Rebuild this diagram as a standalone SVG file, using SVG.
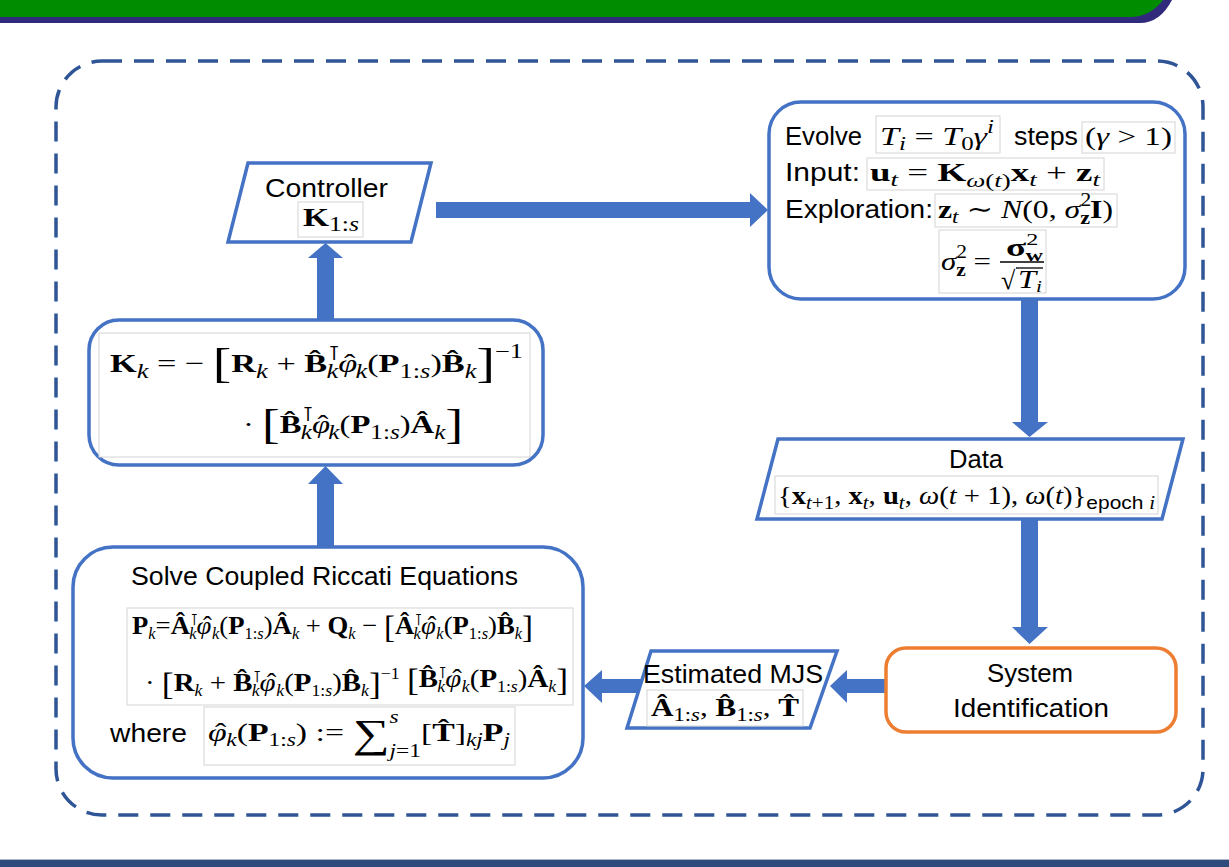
<svg xmlns="http://www.w3.org/2000/svg" width="1229" height="867" viewBox="0 0 1229 867">
<defs>
<style>
.box{fill:#fff;stroke:#4472C4;stroke-width:3.5}
.obox{fill:#fff;stroke:#ED7D31;stroke-width:3.5}
.fbox{fill:#fff;stroke:#D4D4D4;stroke-width:1}
.t{font-family:"Liberation Sans",Arial,sans-serif;font-size:26px;fill:#000}
.m{font-family:"Liberation Serif","DejaVu Serif",serif;font-size:26px;fill:#000}
.b{font-weight:bold;font-style:normal}
.i{font-style:italic}
.u{font-style:normal;font-weight:normal}
.tp{font-family:"DejaVu Sans",sans-serif;font-style:normal;font-weight:normal}
.arr{fill:#4472C4}
</style>
</defs>
<rect width="1229" height="867" fill="#fff"/>
<g id="banner">
<path d="M0,0 H1172 Q1160,23 1140,23 H0 Z" fill="#312A7C"/>
<path d="M0,0 H1163 Q1150,17 1130,17 H0 Z" fill="#008C00"/>
</g>
<rect id="frame" x="56" y="61" width="1147" height="754" rx="46" fill="none" stroke="#2F5597" stroke-width="3.5" stroke-dasharray="20 12"/>
<g id="footer">
<rect x="0" y="859" width="1229" height="1" fill="#B0B8C8"/>
<rect x="0" y="860" width="1229" height="7" fill="#2E4B7B"/>
</g>
<g id="connectors">
<polygon class="arr" points="317,322 317,258 308,258 325.5,243 343,258 334,258 334,322"/>
<polygon class="arr" points="317,549 317,484 308,484 325.5,466 343,484 334,484 334,549"/>
<polygon class="arr" points="436,202 750,202 750,193 768,210 750,227 750,218 436,218"/>
<polygon class="arr" points="1021,300 1038,300 1038,422 1048,422 1029.5,437 1012,422 1021,422"/>
<polygon class="arr" points="1021,519 1038,519 1038,627 1048,627 1029.5,644 1012,627 1021,627"/>
<polygon class="arr" points="887,679 847,679 847,670 830,686 847,703 847,693 887,693"/>
<polygon class="arr" points="642,679 602,679 602,670 584,686 602,703 602,693 642,693"/>
</g>
<g id="controller">
<polygon class="box" points="248,163 431,163 411,242 228,242"/>
<text class="t" x="265" y="197" textLength="123" lengthAdjust="spacingAndGlyphs">Controller</text>
<rect class="fbox" x="298" y="202" width="65" height="35"/>
<text class="m" x="303" y="226" font-size="30" textLength="56" lengthAdjust="spacingAndGlyphs"><tspan class="b">K</tspan><tspan font-size="20" dy="5">1:<tspan class="i">s</tspan></tspan></text>
</g>
<g id="gain">
<rect class="box" x="89" y="320" width="454" height="145" rx="30"/>
<rect class="fbox" x="99" y="333" width="431" height="124"/>
<text class="m" x="110" y="372" font-size="30" textLength="413" lengthAdjust="spacingAndGlyphs"><tspan class="b">K</tspan><tspan class="i" font-size="20" dy="6">k</tspan><tspan dy="-6"> = − </tspan><tspan font-size="42" dy="5">[</tspan><tspan class="b" dy="-5">R</tspan><tspan class="i" font-size="20" dy="6">k</tspan><tspan dy="-6"> + </tspan><tspan class="b">B̂</tspan><tspan class="tp" font-size="20" dy="-12">⊺</tspan><tspan class="i" font-size="20" dx="-11" dy="18">k</tspan><tspan class="i" dy="-6">φ</tspan><tspan class="u" dx="-10">ˆ</tspan><tspan class="i" font-size="20" dy="6">k</tspan><tspan dy="-6">(</tspan><tspan class="b">P</tspan><tspan font-size="20" dy="6">1:<tspan class="i">s</tspan></tspan><tspan dy="-6">)</tspan><tspan class="b">B̂</tspan><tspan class="i" font-size="20" dy="6">k</tspan><tspan font-size="42" dy="-1">]</tspan><tspan font-size="20" dy="-19">−1</tspan></text>
<text class="m" x="243" y="433" font-size="30" textLength="220" lengthAdjust="spacingAndGlyphs"><tspan>· </tspan><tspan font-size="42" dy="5">[</tspan><tspan class="b" dy="-5">B̂</tspan><tspan class="tp" font-size="20" dy="-12">⊺</tspan><tspan class="i" font-size="20" dx="-11" dy="18">k</tspan><tspan class="i" dy="-6">φ</tspan><tspan class="u" dx="-10">ˆ</tspan><tspan class="i" font-size="20" dy="6">k</tspan><tspan dy="-6">(</tspan><tspan class="b">P</tspan><tspan font-size="20" dy="6">1:<tspan class="i">s</tspan></tspan><tspan dy="-6">)</tspan><tspan class="b">Â</tspan><tspan class="i" font-size="20" dy="6">k</tspan><tspan font-size="42" dy="-1">]</tspan></text>
</g>
<g id="evolve">
<rect class="box" x="769" y="102" width="416" height="197" rx="32"/>
<text class="t" x="785" y="145" textLength="77" lengthAdjust="spacingAndGlyphs">Evolve</text>
<rect class="fbox" x="876" y="116" width="124" height="37"/>
<text class="m" x="880" y="145" font-size="28" textLength="114" lengthAdjust="spacingAndGlyphs"><tspan class="i">T</tspan><tspan class="i" font-size="19" dy="5">i</tspan><tspan dy="-5"> = </tspan><tspan class="i">T</tspan><tspan font-size="19" dy="5">0</tspan><tspan class="i" dy="-5">γ</tspan><tspan class="i" font-size="19" dy="-12">i</tspan></text>
<text class="t" x="1014" y="145" textLength="64" lengthAdjust="spacingAndGlyphs">steps</text>
<rect class="fbox" x="1082" y="122" width="93" height="31"/>
<text class="m" x="1085" y="145" font-size="28" textLength="87" lengthAdjust="spacingAndGlyphs">(<tspan class="i">γ</tspan> &gt; 1)</text>
<text class="t" x="785" y="181" textLength="75" lengthAdjust="spacingAndGlyphs">Input:</text>
<rect class="fbox" x="867" y="158" width="237" height="32"/>
<text class="m" x="870" y="181" font-size="28" textLength="230" lengthAdjust="spacingAndGlyphs"><tspan class="b">u</tspan><tspan class="i" font-size="19" dy="5">t</tspan><tspan dy="-5"> = </tspan><tspan class="b">K</tspan><tspan font-size="19" dy="6"><tspan class="i">ω</tspan>(<tspan class="i">t</tspan>)</tspan><tspan class="b" dy="-6">x</tspan><tspan class="i" font-size="19" dy="5">t</tspan><tspan dy="-5"> + </tspan><tspan class="b">z</tspan><tspan class="i" font-size="19" dy="5">t</tspan></text>
<text class="t" x="785" y="218" textLength="148" lengthAdjust="spacingAndGlyphs">Exploration:</text>
<rect class="fbox" x="935" y="194" width="182" height="33"/>
<text class="m" x="938" y="218" font-size="28" textLength="175" lengthAdjust="spacingAndGlyphs"><tspan class="b">z</tspan><tspan class="i" font-size="19" dy="5">t</tspan><tspan dy="-5"> ∼ </tspan><tspan class="i">N</tspan><tspan>(0, </tspan><tspan class="i">σ</tspan><tspan font-size="18" dy="-12">2</tspan><tspan class="b" font-size="18" dx="-9" dy="18">z</tspan><tspan class="b" dy="-6">I</tspan><tspan>)</tspan></text>
<rect class="fbox" x="939" y="230" width="107" height="63"/>
<text class="m" x="941" y="270" font-size="28" textLength="50" lengthAdjust="spacingAndGlyphs"><tspan class="i">σ</tspan><tspan font-size="18" dy="-12">2</tspan><tspan class="b" font-size="18" dx="-9" dy="18">z</tspan><tspan dy="-6"> =</tspan></text>
<text class="m" x="1006" y="256" font-size="25" textLength="37" lengthAdjust="spacingAndGlyphs"><tspan class="b">σ</tspan><tspan font-size="17" dy="-11">2</tspan><tspan class="b" font-size="17" dx="-9" dy="16">w</tspan></text>
<line x1="1000" y1="262" x2="1044" y2="262" stroke="#000" stroke-width="1.4"/>
<text class="m" x="1001" y="289" font-size="26">√</text>
<line x1="1016" y1="268" x2="1043" y2="268" stroke="#000" stroke-width="1.3"/>
<text class="m" x="1018" y="288" font-size="26" textLength="24" lengthAdjust="spacingAndGlyphs"><tspan class="i">T</tspan><tspan class="i" font-size="17" dy="4">i</tspan></text>
</g>
<g id="data">
<polygon class="box" points="778,439 1183,439 1162,519 757,519"/>
<text class="t" x="949" y="468" textLength="54" lengthAdjust="spacingAndGlyphs">Data</text>
<rect class="fbox" x="775" y="476" width="383" height="38"/>
<text class="m" x="778" y="504" font-size="28" textLength="377" lengthAdjust="spacingAndGlyphs"><tspan>{</tspan><tspan class="b">x</tspan><tspan font-size="19" dy="5"><tspan class="i">t</tspan>+1</tspan><tspan dy="-5">, </tspan><tspan class="b">x</tspan><tspan class="i" font-size="19" dy="5">t</tspan><tspan dy="-5">, </tspan><tspan class="b">u</tspan><tspan class="i" font-size="19" dy="5">t</tspan><tspan dy="-5">, </tspan><tspan class="i">ω</tspan><tspan>(</tspan><tspan class="i">t</tspan><tspan> + 1), </tspan><tspan class="i">ω</tspan><tspan>(</tspan><tspan class="i">t</tspan><tspan>)}</tspan><tspan font-size="19" dy="5" font-family="Liberation Sans, Arial, sans-serif">epoch </tspan><tspan class="i" font-size="19">i</tspan></text>
</g>
<g id="sysid">
<rect class="obox" x="886" y="648" width="290" height="84" rx="20"/>
<text class="t" x="987" y="682" textLength="86" lengthAdjust="spacingAndGlyphs">System</text>
<text class="t" x="953" y="717" textLength="156" lengthAdjust="spacingAndGlyphs">Identification</text>
</g>
<g id="mjs">
<polygon class="box" points="651,651 837,651 810,728 627,728"/>
<text class="t" x="643" y="683" textLength="180" lengthAdjust="spacingAndGlyphs">Estimated MJS</text>
<rect class="fbox" x="647" y="690" width="156" height="36"/>
<text class="m" x="651" y="716" font-size="27" textLength="148" lengthAdjust="spacingAndGlyphs"><tspan class="b">Â</tspan><tspan font-size="19" dy="5">1:<tspan class="i">s</tspan></tspan><tspan dy="-5">, </tspan><tspan class="b">B̂</tspan><tspan font-size="19" dy="5">1:<tspan class="i">s</tspan></tspan><tspan dy="-5">, </tspan><tspan class="b">T̂</tspan></text>
</g>
<g id="riccati">
<rect class="box" x="73" y="547" width="510" height="231" rx="40"/>
<text class="t" x="131" y="585" textLength="387" lengthAdjust="spacingAndGlyphs">Solve Coupled Riccati Equations</text>
<rect class="fbox" x="127" y="608" width="446" height="97"/>
<text class="m" x="132" y="634" font-size="23" textLength="401" lengthAdjust="spacingAndGlyphs"><tspan class="b">P</tspan><tspan class="i" font-size="16" dy="5">k</tspan><tspan dy="-5">=</tspan><tspan class="b">Â</tspan><tspan class="tp" font-size="16" dy="-9">⊺</tspan><tspan class="i" font-size="16" dx="-9" dy="14">k</tspan><tspan class="i" dy="-5">φ</tspan><tspan class="u" dx="-8">ˆ</tspan><tspan class="i" font-size="16" dy="5">k</tspan><tspan dy="-5">(</tspan><tspan class="b">P</tspan><tspan font-size="16" dy="5">1:<tspan class="i">s</tspan></tspan><tspan dy="-5">)</tspan><tspan class="b">Â</tspan><tspan class="i" font-size="16" dy="5">k</tspan><tspan dy="-5"> + </tspan><tspan class="b">Q</tspan><tspan class="i" font-size="16" dy="5">k</tspan><tspan dy="-5"> − </tspan><tspan font-size="32" dy="4">[</tspan><tspan class="b" dy="-4">Â</tspan><tspan class="tp" font-size="16" dy="-9">⊺</tspan><tspan class="i" font-size="16" dx="-9" dy="14">k</tspan><tspan class="i" dy="-5">φ</tspan><tspan class="u" dx="-8">ˆ</tspan><tspan class="i" font-size="16" dy="5">k</tspan><tspan dy="-5">(</tspan><tspan class="b">P</tspan><tspan font-size="16" dy="5">1:<tspan class="i">s</tspan></tspan><tspan dy="-5">)</tspan><tspan class="b">B̂</tspan><tspan class="i" font-size="16" dy="5">k</tspan><tspan font-size="32" dy="-1">]</tspan></text>
<text class="m" x="145" y="691" font-size="23" textLength="423" lengthAdjust="spacingAndGlyphs"><tspan>· </tspan><tspan font-size="32" dy="4">[</tspan><tspan class="b" dy="-4">R</tspan><tspan class="i" font-size="16" dy="5">k</tspan><tspan dy="-5"> + </tspan><tspan class="b">B̂</tspan><tspan class="tp" font-size="16" dy="-9">⊺</tspan><tspan class="i" font-size="16" dx="-9" dy="14">k</tspan><tspan class="i" dy="-5">φ</tspan><tspan class="u" dx="-8">ˆ</tspan><tspan class="i" font-size="16" dy="5">k</tspan><tspan dy="-5">(</tspan><tspan class="b">P</tspan><tspan font-size="16" dy="5">1:<tspan class="i">s</tspan></tspan><tspan dy="-5">)</tspan><tspan class="b">B̂</tspan><tspan class="i" font-size="16" dy="5">k</tspan><tspan font-size="32" dy="-1">]</tspan><tspan font-size="16" dy="-16">−1</tspan><tspan dy="12"> </tspan><tspan font-size="32">[</tspan><tspan class="b" dy="-4">B̂</tspan><tspan class="tp" font-size="16" dy="-9">⊺</tspan><tspan class="i" font-size="16" dx="-9" dy="14">k</tspan><tspan class="i" dy="-5">φ</tspan><tspan class="u" dx="-8">ˆ</tspan><tspan class="i" font-size="16" dy="5">k</tspan><tspan dy="-5">(</tspan><tspan class="b">P</tspan><tspan font-size="16" dy="5">1:<tspan class="i">s</tspan></tspan><tspan dy="-5">)</tspan><tspan class="b">Â</tspan><tspan class="i" font-size="16" dy="5">k</tspan><tspan font-size="32" dy="-1">]</tspan></text>
<text class="t" x="110" y="742" textLength="77" lengthAdjust="spacingAndGlyphs">where</text>
<rect class="fbox" x="204" y="707" width="311" height="58"/>
<text class="m" x="208" y="741" font-size="26" textLength="302" lengthAdjust="spacingAndGlyphs"><tspan class="i">φ</tspan><tspan class="u" dx="-9">ˆ</tspan><tspan class="i" font-size="18" dy="5">k</tspan><tspan dy="-5">(</tspan><tspan class="b">P</tspan><tspan font-size="18" dy="5">1:<tspan class="i">s</tspan></tspan><tspan dy="-5">) := </tspan><tspan font-size="40" dy="6">∑</tspan><tspan class="i" font-size="18" dy="-24">s</tspan><tspan class="i" font-size="18" dx="-7" dy="34">j</tspan><tspan font-size="18">=1</tspan><tspan dy="-16">[</tspan><tspan class="b">T̂</tspan><tspan>]</tspan><tspan class="i" font-size="18" dy="5">kj</tspan><tspan class="b" dy="-5">P</tspan><tspan class="i" font-size="18" dy="5">j</tspan></text>
</g>
</svg>
